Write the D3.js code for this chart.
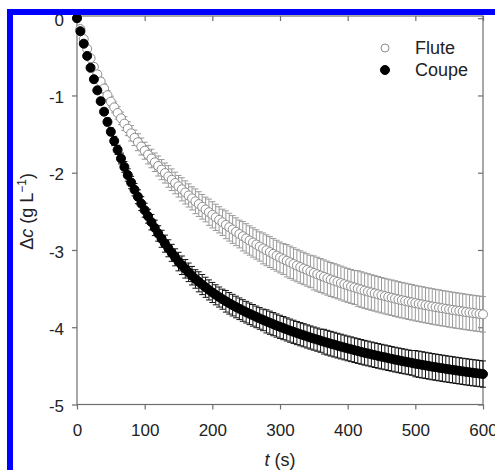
<!DOCTYPE html>
<html>
<head>
<meta charset="utf-8">
<script src="https://cdn.jsdelivr.net/npm/d3@7"></script>
<style>
  body { margin: 0; background: #fff; }
  svg { display: block; font-family: "Liberation Sans", Arial, sans-serif; }
</style>
</head>
<body>
<div id="chart"></div>
<script>
// time points (s)
const times = [0,
  5, 10, 15, 20, 25, 30, 35, 40, 45, 50, 55, 60, 65, 70, 75, 80, 85, 90, 95, 100,
  105, 110, 115, 120, 125, 130, 135, 140, 145, 150, 155, 160, 165, 170, 175, 180, 185, 190, 195, 200,
  205, 210, 215, 220, 225, 230, 235, 240, 245, 250, 255, 260, 265, 270, 275, 280, 285, 290, 295, 300,
  305, 310, 315, 320, 325, 330, 335, 340, 345, 350, 355, 360, 365, 370, 375, 380, 385, 390, 395, 400,
  405, 410, 415, 420, 425, 430, 435, 440, 445, 450, 455, 460, 465, 470, 475, 480, 485, 490, 495, 500,
  505, 510, 515, 520, 525, 530, 535, 540, 545, 550, 555, 560, 565, 570, 575, 580, 585, 590, 595, 600];

// Flute: mean and error
const fluteMean = [0,
  -0.140, -0.271, -0.397, -0.517, -0.630, -0.727, -0.820, -0.910, -0.997, -1.080,
  -1.154, -1.226, -1.296, -1.364, -1.430, -1.490, -1.548, -1.605, -1.661, -1.715,
  -1.766, -1.816, -1.865, -1.913, -1.960, -2.004, -2.048, -2.091, -2.133, -2.175,
  -2.215, -2.255, -2.294, -2.332, -2.370, -2.406, -2.441, -2.476, -2.511, -2.545,
  -2.578, -2.610, -2.642, -2.674, -2.705, -2.735, -2.764, -2.793, -2.822, -2.850,
  -2.877, -2.903, -2.929, -2.955, -2.980, -3.004, -3.027, -3.051, -3.074, -3.097,
  -3.118, -3.139, -3.160, -3.181, -3.202, -3.221, -3.240, -3.259, -3.278, -3.297,
  -3.314, -3.331, -3.348, -3.365, -3.382, -3.397, -3.412, -3.428, -3.443, -3.458,
  -3.472, -3.485, -3.499, -3.512, -3.526, -3.538, -3.550, -3.562, -3.574, -3.586,
  -3.597, -3.608, -3.618, -3.629, -3.640, -3.650, -3.659, -3.669, -3.678, -3.688,
  -3.697, -3.705, -3.714, -3.722, -3.731, -3.739, -3.746, -3.754, -3.761, -3.769,
  -3.776, -3.783, -3.789, -3.796, -3.803, -3.809, -3.815, -3.821, -3.827, -3.833];
const fluteErr = [0,
  0.01, 0.02, 0.02, 0.03, 0.04, 0.05, 0.05, 0.06, 0.06, 0.07,
  0.07, 0.08, 0.08, 0.09, 0.09, 0.10, 0.10, 0.11, 0.11, 0.11,
  0.12, 0.12, 0.12, 0.13, 0.13, 0.13, 0.14, 0.14, 0.14, 0.14,
  0.15, 0.15, 0.15, 0.15, 0.16, 0.16, 0.16, 0.16, 0.17, 0.17,
  0.17, 0.17, 0.17, 0.18, 0.18, 0.18, 0.18, 0.18, 0.19, 0.19,
  0.19, 0.19, 0.19, 0.19, 0.20, 0.20, 0.20, 0.20, 0.20, 0.20,
  0.20, 0.21, 0.21, 0.21, 0.21, 0.21, 0.21, 0.21, 0.21, 0.22,
  0.22, 0.22, 0.22, 0.22, 0.22, 0.22, 0.22, 0.22, 0.22, 0.22,
  0.22, 0.22, 0.23, 0.23, 0.23, 0.23, 0.23, 0.23, 0.23, 0.23,
  0.23, 0.23, 0.23, 0.23, 0.23, 0.23, 0.23, 0.23, 0.23, 0.23,
  0.23, 0.23, 0.23, 0.23, 0.23, 0.23, 0.23, 0.23, 0.23, 0.23,
  0.23, 0.23, 0.23, 0.23, 0.23, 0.23, 0.23, 0.23, 0.23, 0.23];

// Coupe: mean and error
const coupeMean = [0,
  -0.168, -0.330, -0.488, -0.642, -0.790, -0.934, -1.074, -1.210, -1.342, -1.470,
  -1.589, -1.704, -1.816, -1.925, -2.030, -2.127, -2.220, -2.311, -2.400, -2.485,
  -2.563, -2.640, -2.714, -2.786, -2.855, -2.918, -2.978, -3.037, -3.095, -3.150,
  -3.198, -3.244, -3.289, -3.333, -3.375, -3.412, -3.448, -3.483, -3.517, -3.550,
  -3.580, -3.609, -3.637, -3.664, -3.690, -3.714, -3.738, -3.761, -3.783, -3.805,
  -3.826, -3.846, -3.866, -3.886, -3.905, -3.924, -3.942, -3.960, -3.978, -3.995,
  -4.011, -4.028, -4.044, -4.059, -4.075, -4.090, -4.104, -4.119, -4.133, -4.147,
  -4.160, -4.174, -4.187, -4.200, -4.213, -4.225, -4.238, -4.250, -4.262, -4.274,
  -4.285, -4.297, -4.308, -4.319, -4.330, -4.340, -4.351, -4.361, -4.371, -4.381,
  -4.390, -4.400, -4.409, -4.419, -4.428, -4.437, -4.445, -4.454, -4.462, -4.471,
  -4.479, -4.487, -4.494, -4.502, -4.510, -4.517, -4.524, -4.531, -4.538, -4.545,
  -4.551, -4.558, -4.564, -4.571, -4.577, -4.583, -4.589, -4.594, -4.600, -4.606];
const coupeErr = [0,
  0.01, 0.01, 0.02, 0.02, 0.03, 0.03, 0.04, 0.04, 0.05, 0.05,
  0.06, 0.06, 0.07, 0.07, 0.08, 0.08, 0.08, 0.09, 0.09, 0.09,
  0.09, 0.10, 0.10, 0.10, 0.11, 0.11, 0.11, 0.11, 0.11, 0.12,
  0.12, 0.12, 0.12, 0.12, 0.12, 0.13, 0.13, 0.13, 0.13, 0.13,
  0.13, 0.13, 0.13, 0.14, 0.14, 0.14, 0.14, 0.14, 0.14, 0.14,
  0.14, 0.14, 0.14, 0.14, 0.14, 0.15, 0.15, 0.15, 0.15, 0.15,
  0.15, 0.15, 0.15, 0.15, 0.15, 0.15, 0.15, 0.15, 0.15, 0.15,
  0.15, 0.15, 0.16, 0.16, 0.16, 0.16, 0.16, 0.16, 0.16, 0.16,
  0.16, 0.16, 0.16, 0.16, 0.16, 0.16, 0.16, 0.16, 0.16, 0.16,
  0.16, 0.16, 0.16, 0.16, 0.16, 0.16, 0.16, 0.16, 0.16, 0.17,
  0.17, 0.17, 0.17, 0.17, 0.17, 0.17, 0.17, 0.17, 0.17, 0.17,
  0.17, 0.17, 0.17, 0.17, 0.17, 0.17, 0.17, 0.17, 0.17, 0.17];

const seriesNames = ["Flute", "Coupe"];
const xTicks = [0, 100, 200, 300, 400, 500, 600];
const yTicks = [0, -1, -2, -3, -4, -5];

// layout
const W = 495, H = 470;
const margin = { top: 18.2, right: 12, bottom: 65.5, left: 77 };
const innerW = W - margin.left - margin.right;
const innerH = H - margin.top - margin.bottom;
const axisColor = "#6e6e6e";
const textColor = "#222";

const svg = d3.select("#chart").append("svg")
  .attr("width", W)
  .attr("height", H);

svg.append("rect").attr("width", W).attr("height", H).attr("fill", "#fff");

const x = d3.scaleLinear().domain([0, 600]).range([0, innerW]);
const y = d3.scaleLinear().domain([-5, 0]).range([innerH, 0]);

const g = svg.append("g")
  .attr("transform", `translate(${margin.left},${margin.top})`);

const frameTop = -2.2;

// frame
g.append("rect")
  .attr("x", 0).attr("y", frameTop)
  .attr("width", innerW).attr("height", innerH - frameTop)
  .attr("fill", "none")
  .attr("stroke", axisColor)
  .attr("stroke-width", 1.2);

// bottom axis (outward ticks)
const xAxis = g.append("g")
  .attr("transform", `translate(0,${innerH})`)
  .call(d3.axisBottom(x).tickValues(xTicks).tickSize(5).tickSizeOuter(0));
xAxis.select(".domain").remove();
xAxis.selectAll("line").attr("stroke", axisColor).attr("stroke-width", 1.2);
xAxis.selectAll("text")
  .attr("y", 31.5).attr("dy", null)
  .attr("fill", textColor)
  .style("font-size", "17px");

// left axis (outward ticks)
const yAxis = g.append("g")
  .call(d3.axisLeft(y).tickValues(yTicks).tickSize(5).tickPadding(8).tickSizeOuter(0)
    .tickFormat(d => d === 0 ? "0" : "-" + Math.abs(d)));
yAxis.select(".domain").remove();
yAxis.selectAll("line").attr("stroke", axisColor).attr("stroke-width", 1.2);
yAxis.selectAll("text")
  .attr("dy", "0.42em")
  .attr("fill", textColor)
  .style("font-size", "17px");

// top axis (inward ticks)
const topAxis = g.append("g")
  .attr("transform", `translate(0,${frameTop})`)
  .call(d3.axisBottom(x).tickValues(xTicks).tickSize(5).tickFormat(""));
topAxis.select(".domain").remove();
topAxis.selectAll("line").attr("stroke", axisColor).attr("stroke-width", 1.2);

// right axis (inward ticks)
const rightAxis = g.append("g")
  .attr("transform", `translate(${innerW},0)`)
  .call(d3.axisLeft(y).tickValues(yTicks).tickSize(5).tickFormat(""));
rightAxis.select(".domain").remove();
rightAxis.selectAll("line").attr("stroke", axisColor).attr("stroke-width", 1.2);

// data
const series = [
  { name: seriesNames[0], mean: fluteMean, err: fluteErr, fill: "#fff", stroke: "#8c8c8c", bar: "#999" },
  { name: seriesNames[1], mean: coupeMean, err: coupeErr, fill: "#000", stroke: "#000", bar: "#111" }
];

const cap = 3;
series.forEach(s => {
  const pts = times.map((t, i) => ({ t: t, v: s.mean[i], e: s.err[i] }));
  const sg = g.append("g");

  const bars = sg.selectAll("g.bar")
    .data(pts)
    .enter()
    .append("g")
    .attr("class", "bar")
    .attr("stroke", s.bar)
    .attr("stroke-width", 1);
  bars.append("line")
    .attr("x1", d => x(d.t)).attr("x2", d => x(d.t))
    .attr("y1", d => y(d.v + d.e)).attr("y2", d => y(d.v - d.e));
  bars.append("line")
    .attr("x1", d => x(d.t) - cap).attr("x2", d => x(d.t) + cap)
    .attr("y1", d => y(d.v + d.e)).attr("y2", d => y(d.v + d.e));
  bars.append("line")
    .attr("x1", d => x(d.t) - cap).attr("x2", d => x(d.t) + cap)
    .attr("y1", d => y(d.v - d.e)).attr("y2", d => y(d.v - d.e));

  sg.selectAll("circle")
    .data(pts)
    .enter()
    .append("circle")
    .attr("cx", d => x(d.t))
    .attr("cy", d => y(d.v))
    .attr("r", 4.5)
    .attr("fill", s.fill)
    .attr("stroke", s.stroke)
    .attr("stroke-width", 1);
});

// legend
const legend = g.append("g")
  .attr("transform", `translate(${385 - margin.left},${48 - margin.top})`);
series.forEach((s, i) => {
  legend.append("circle")
    .attr("cx", 0).attr("cy", i * 22)
    .attr("r", i === 0 ? 4 : 4.5)
    .attr("fill", s.fill)
    .attr("stroke", s.stroke)
    .attr("stroke-width", 1);
  legend.append("text")
    .attr("x", 30).attr("y", i * 22 + 6.3)
    .attr("fill", textColor)
    .style("font-size", "18px")
    .text(s.name);
});

// axis titles
const xTitle = svg.append("text")
  .attr("x", margin.left + innerW / 2)
  .attr("y", 466)
  .attr("text-anchor", "middle")
  .attr("fill", textColor)
  .style("font-size", "18px");
xTitle.append("tspan").style("font-style", "italic").text("t");
xTitle.append("tspan").text(" (s)");

const yTitle = svg.append("text")
  .attr("transform", `translate(33,${margin.top + innerH / 2}) rotate(-90)`)
  .attr("text-anchor", "middle")
  .attr("fill", textColor)
  .style("font-size", "18px");
yTitle.append("tspan").text("\u0394");
yTitle.append("tspan").style("font-style", "italic").text("c");
yTitle.append("tspan").text(" (g L");
yTitle.append("tspan").attr("dy", -7).style("font-size", "12px").text("\u22121");
yTitle.append("tspan").attr("dy", 7).text(")");

// blue border
svg.append("rect")
  .attr("x", 10).attr("y", 12)
  .attr("width", 488).attr("height", 470)
  .attr("fill", "none")
  .attr("stroke", "#0000ff")
  .attr("stroke-width", 6);
</script>
</body>
</html>
